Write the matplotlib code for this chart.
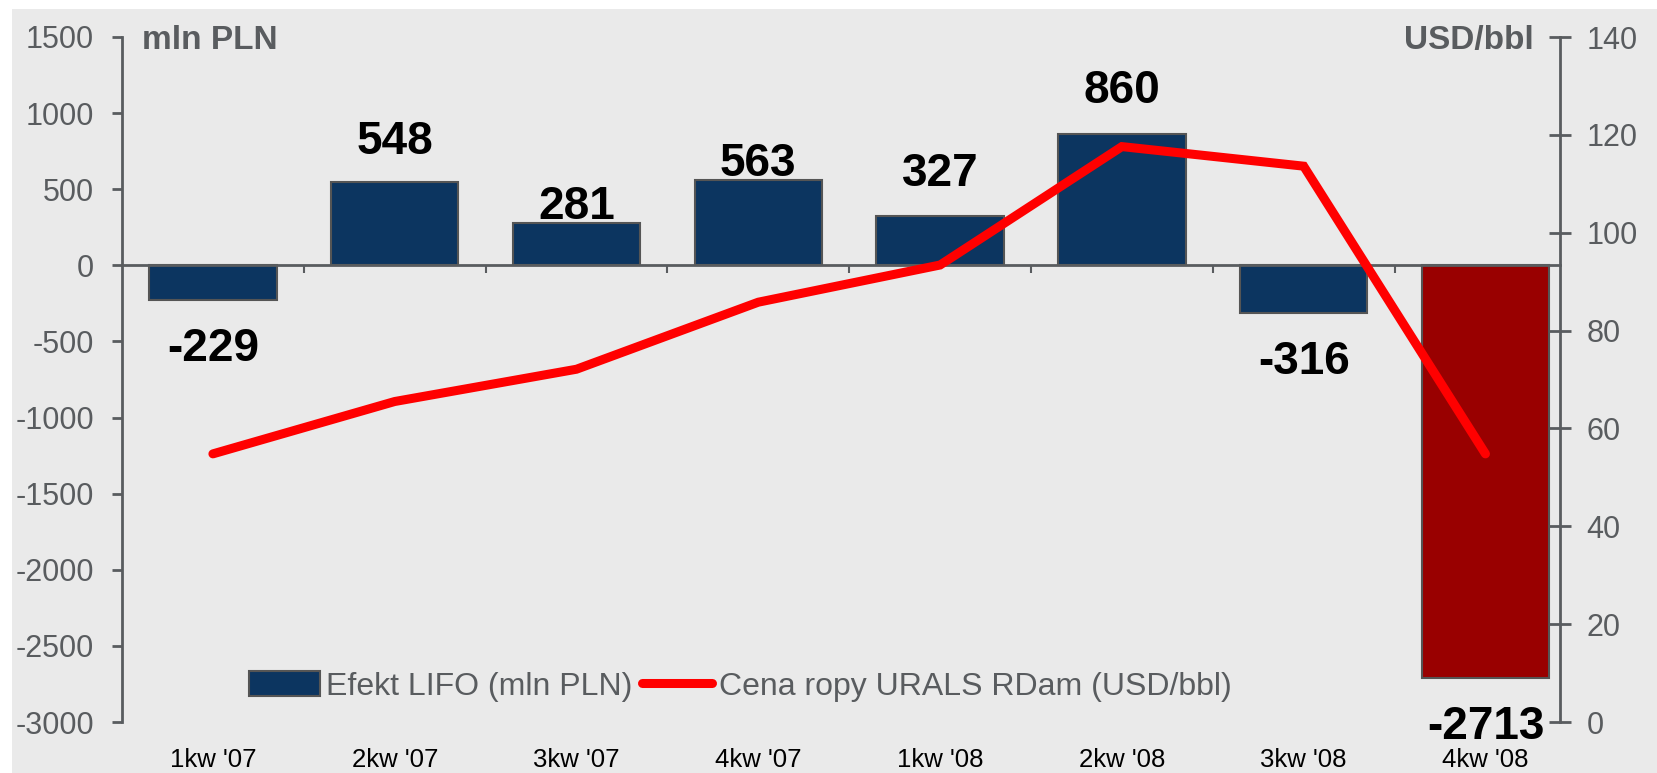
import matplotlib
matplotlib.use("Agg")
import matplotlib.pyplot as plt
from matplotlib.patches import Rectangle

# dane
quarters = ["1kw '07", "2kw '07", "3kw '07", "4kw '07", "1kw '08", "2kw '08", "3kw '08", "4kw '08"]
lifo_effect = [-229, 548, 281, 563, 327, 860, -316, -2713]      # mln PLN
urals_price = [54.8, 65.5, 72.1, 85.8, 93.4, 117.6, 113.6, 54.8]  # USD/bbl

# styl
bar_colors = ['#0c3560'] * 7 + ['#990000']
label_offsets_pt = [-35, 29, 11, 11, 30, 31, -35, -35]
grey = '#595c5f'

plt.rcParams['font.family'] = ['Liberation Sans', 'DejaVu Sans']
plt.rcParams['axes.unicode_minus'] = False

fig = plt.figure(figsize=(16.57, 7.73), dpi=100)
fig.patches.append(Rectangle((12 / 1657, 0), 1, 1 - 9 / 773, transform=fig.transFigure,
                             facecolor='#eaeaea', edgecolor='none', zorder=-10))

ax = fig.add_axes([122 / 1657, 1 - 722 / 773, 1438 / 1657, 685 / 773])
ax.set_facecolor('none')
x = list(range(len(quarters)))

bars = ax.bar(x, lifo_effect, width=0.7, color=bar_colors, edgecolor='#555555',
              linewidth=1.5, label='Efekt LIFO (mln PLN)', zorder=2)
for i, v in enumerate(lifo_effect):
    ax.annotate(str(v), (i, v), xytext=(0, label_offsets_pt[i]), textcoords='offset points',
                ha='center', va='center', fontsize=33, fontweight='bold', color='black')

ax.set_xlim(-0.5, len(quarters) - 0.59)
ax.set_ylim(-3000, 1500)
ax.set_yticks(range(-3000, 1501, 500))
ax.spines['top'].set_visible(False)
ax.spines['right'].set_visible(False)
ax.spines['bottom'].set_position(('data', 0))
for s in ('left', 'bottom'):
    ax.spines[s].set_color(grey)
    ax.spines[s].set_linewidth(2)
ax.set_xticks([i + 0.5 for i in x[:-1]])
ax.set_xticklabels([])
ax.tick_params(axis='x', direction='out', length=6, width=1.5, colors=grey)
ax.tick_params(axis='y', direction='out', length=7, width=2, colors=grey,
               labelsize=22, pad=13)

sec = ax.secondary_xaxis('bottom')
sec.set_xticks(x)
sec.set_xticklabels(quarters)
sec.tick_params(length=0, pad=19, labelsize=18.5, labelcolor='black')
sec.spines['bottom'].set_visible(False)

ax2 = ax.twinx()
ax2.plot(x, urals_price, color='#ff0000', lw=6.5, solid_capstyle='round',
         solid_joinstyle='miter', label='Cena ropy URALS RDam (USD/bbl)')
ax2.set_ylim(0, 140)
ax2.set_yticks(range(0, 141, 20))
for s in ('top', 'left', 'bottom'):
    ax2.spines[s].set_visible(False)
ax2.spines['right'].set_color(grey)
ax2.spines['right'].set_linewidth(2)
ax2.tick_params(axis='y', direction='inout', length=16, width=2, colors=grey,
                labelsize=22, pad=11)

ax.text(0.014, 0.995, 'mln PLN', transform=ax.transAxes, ha='left', va='center',
        fontsize=24, fontweight='bold', color=grey)
ax.text(0.982, 0.995, 'USD/bbl', transform=ax.transAxes, ha='right', va='center',
        fontsize=24, fontweight='bold', color=grey)

h1, l1 = ax.get_legend_handles_labels()
h2, l2 = ax2.get_legend_handles_labels()
leg = ax2.legend(h1 + h2, l1 + l2, loc='center', bbox_to_anchor=(0.43, 0.052), ncol=2,
                 frameon=False, fontsize=23, handlelength=2.2, handleheight=0.8,
                 handletextpad=0.2, columnspacing=0.3)
for t in leg.get_texts():
    t.set_color(grey)

fig.savefig('out.png', dpi=100)
